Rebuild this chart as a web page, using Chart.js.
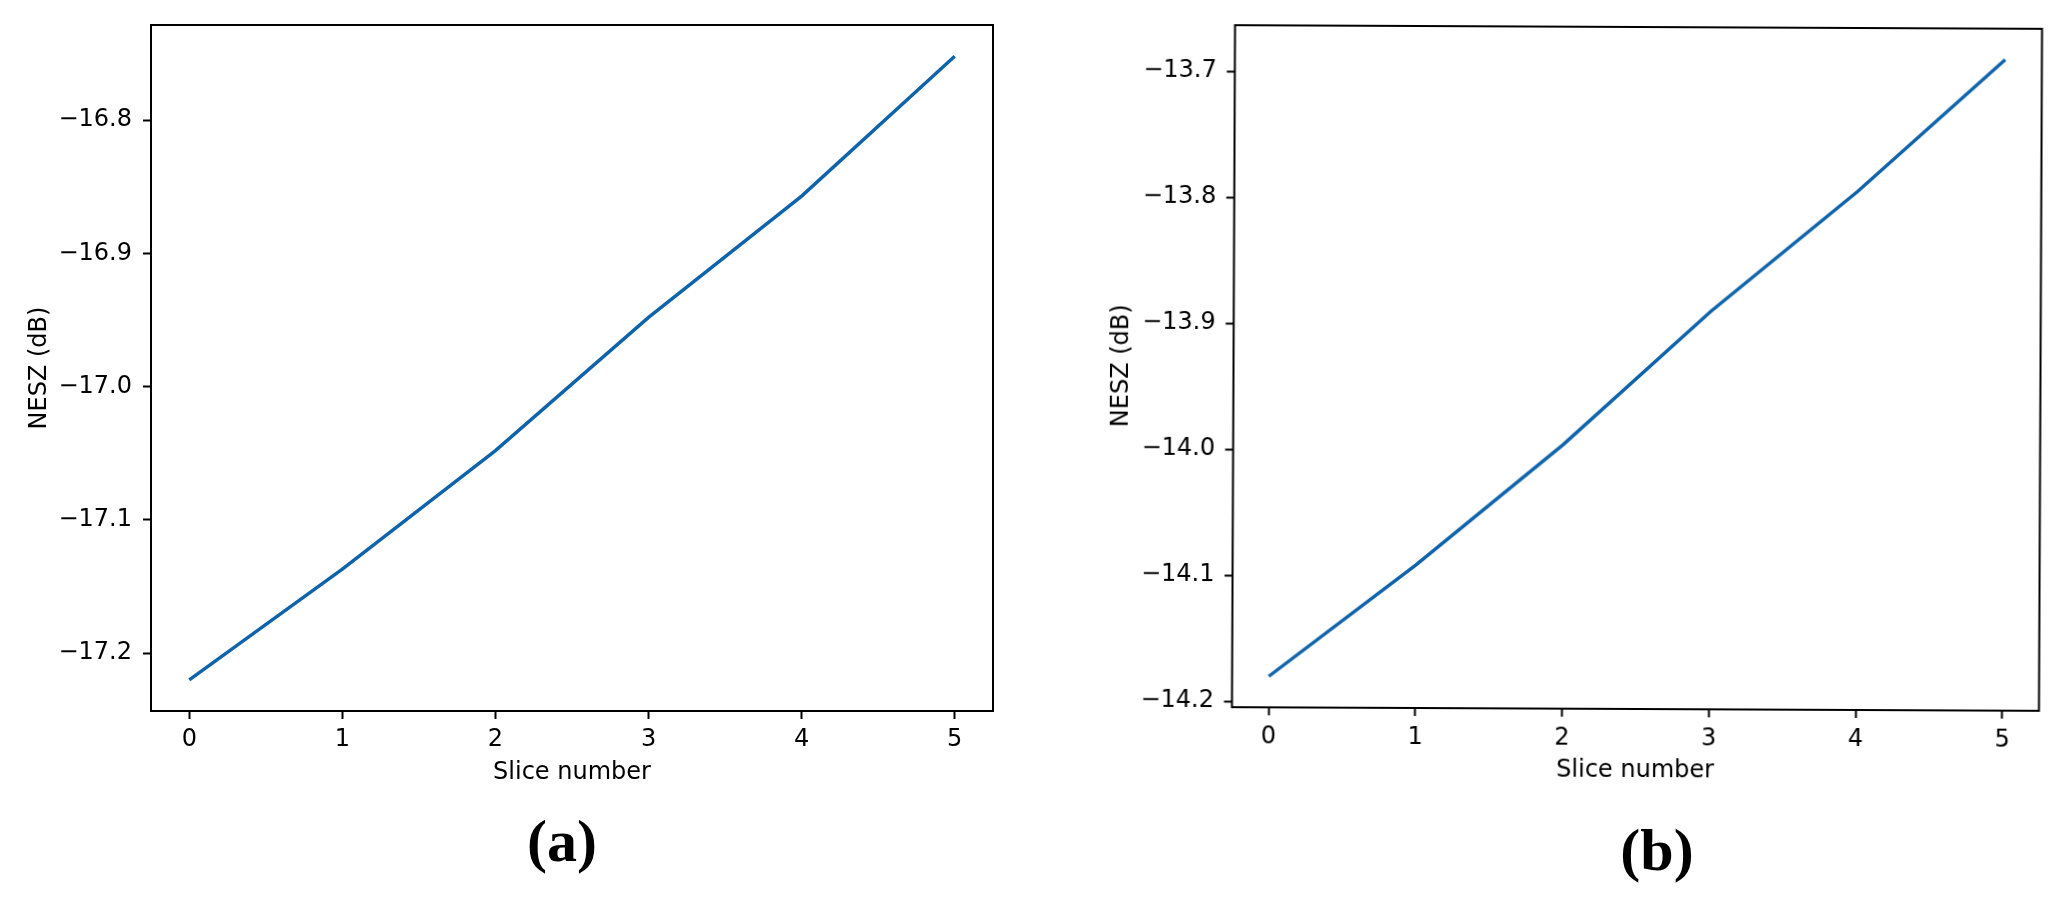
<!DOCTYPE html>
<html><head><meta charset="utf-8">
<script src="https://cdn.jsdelivr.net/npm/chart.js@4.4.0/dist/chart.umd.min.js"></script>
<style>
html,body{margin:0;padding:0;background:#fff;width:2067px;height:906px;overflow:hidden;position:relative}
.wrap{position:absolute}
.cap{position:absolute;font-family:"Liberation Serif","Times New Roman",serif;font-weight:bold;font-size:60px;line-height:60px;text-align:center;width:200px;color:#000}
</style></head><body>
<div class="wrap" style="left:0;top:-20px;width:1030px;height:946px"><canvas id="ca" width="1030" height="946"></canvas></div>
<div class="wrap" style="left:1040px;top:-20px;width:1027px;height:946px;transform:rotate(0.26deg);transform-origin:597px 388px"><canvas id="cb" width="1027" height="946"></canvas></div>
<div class="cap" style="left:462px;top:811px">(a)</div>
<div class="cap" style="left:1557px;top:820px">(b)</div>
<script>
// ---- data ----
const sliceNumbers = [0, 1, 2, 3, 4, 5];
const neszA = [-17.22, -17.137, -17.048, -16.948, -16.857, -16.752];
const neszB = [-14.18, -14.091, -13.995, -13.889, -13.793, -13.688];
const xTickValues = [0, 1, 2, 3, 4, 5];
const yTicksA = [-17.2, -17.1, -17.0, -16.9, -16.8];
const yTicksB = [-14.2, -14.1, -14.0, -13.9, -13.8, -13.7];
const xTitle = 'Slice number';
const yTitle = 'NESZ (dB)';

const LINE_COLOR = '#0f63aa';
const FONT = '"DejaVu Sans", sans-serif';

const framePlugin = {
  id: 'frame',
  afterDraw(chart) {
    const {ctx, chartArea: a} = chart;
    ctx.save();
    ctx.strokeStyle = '#000';
    ctx.lineWidth = 2;
    ctx.strokeRect(a.left, a.top, a.right - a.left, a.bottom - a.top);
    ctx.restore();
  }
};

function fmt(v) {
  const s = Number(v).toFixed(1);
  return s.replace('-', '\u2212');
}

function margins(arr) {
  const mn = Math.min(...arr), mx = Math.max(...arr);
  const d = (mx - mn) * 0.05;
  return [mn - d, mx + d];
}

function makeChart(id, ys, yTicks, cfg) {
  const [ymin, ymax] = margins(ys);
  const [xmin, xmax] = margins(sliceNumbers);
  return new Chart(document.getElementById(id), {
    type: 'line',
    data: {
      datasets: [{
        data: sliceNumbers.map((x, i) => ({x: x, y: ys[i]})),
        borderColor: LINE_COLOR,
        borderWidth: 3.4,
        pointRadius: 0,
        tension: 0,
        fill: false
      }]
    },
    options: {
      responsive: false,
      animation: false,
      events: [],
      layout: {autoPadding: false, padding: cfg.padding},
      plugins: {legend: {display: false}, tooltip: {enabled: false}},
      scales: {
        x: {
          type: 'linear', min: xmin, max: xmax,
          afterBuildTicks: s => { s.ticks = xTickValues.map(v => ({value: v})); },
          afterFit: s => { s.height = cfg.xAxisH; },
          grid: {display: true, drawOnChartArea: false, drawTicks: true, tickLength: 8, tickColor: '#000', tickWidth: 2},
          border: {display: false},
          ticks: {color: '#000', font: {family: FONT, size: 24}, padding: cfg.xTickPad, maxRotation: 0, autoSkip: false,
                  callback: v => String(v)},
          title: {display: true, text: xTitle, color: '#000', font: {family: FONT, size: 24}, padding: {top: 0, bottom: 0}}
        },
        y: {
          type: 'linear', min: ymin, max: ymax,
          afterBuildTicks: s => { s.ticks = yTicks.map(v => ({value: v})); },
          afterFit: s => { s.width = cfg.yAxisW; },
          grid: {display: true, drawOnChartArea: false, drawTicks: true, tickLength: 8, tickColor: '#000', tickWidth: 2},
          border: {display: false},
          ticks: {color: '#000', font: {family: FONT, size: 24}, padding: cfg.yTickPad, autoSkip: false,
                  callback: v => fmt(v)},
          title: {display: true, text: yTitle, color: '#000', font: {family: FONT, size: 24}, padding: {top: cfg.yTitlePad, bottom: 0}}
        }
      }
    },
    plugins: [framePlugin]
  });
}

makeChart('ca', neszA, yTicksA, {
  padding: {left: 0, top: 45, right: 37, bottom: 138.6},
  xAxisH: 76.4, yAxisW: 151, xTickPad: 6, yTickPad: 11, yTitlePad: 25.5
});
makeChart('cb', neszB, yTicksB, {
  padding: {left: 0, top: 47, right: 26.5, bottom: 140.6},
  xAxisH: 76.4, yAxisW: 193.5, xTickPad: 7, yTickPad: 10, yTitlePad: 67.6
});
</script>
</body></html>
